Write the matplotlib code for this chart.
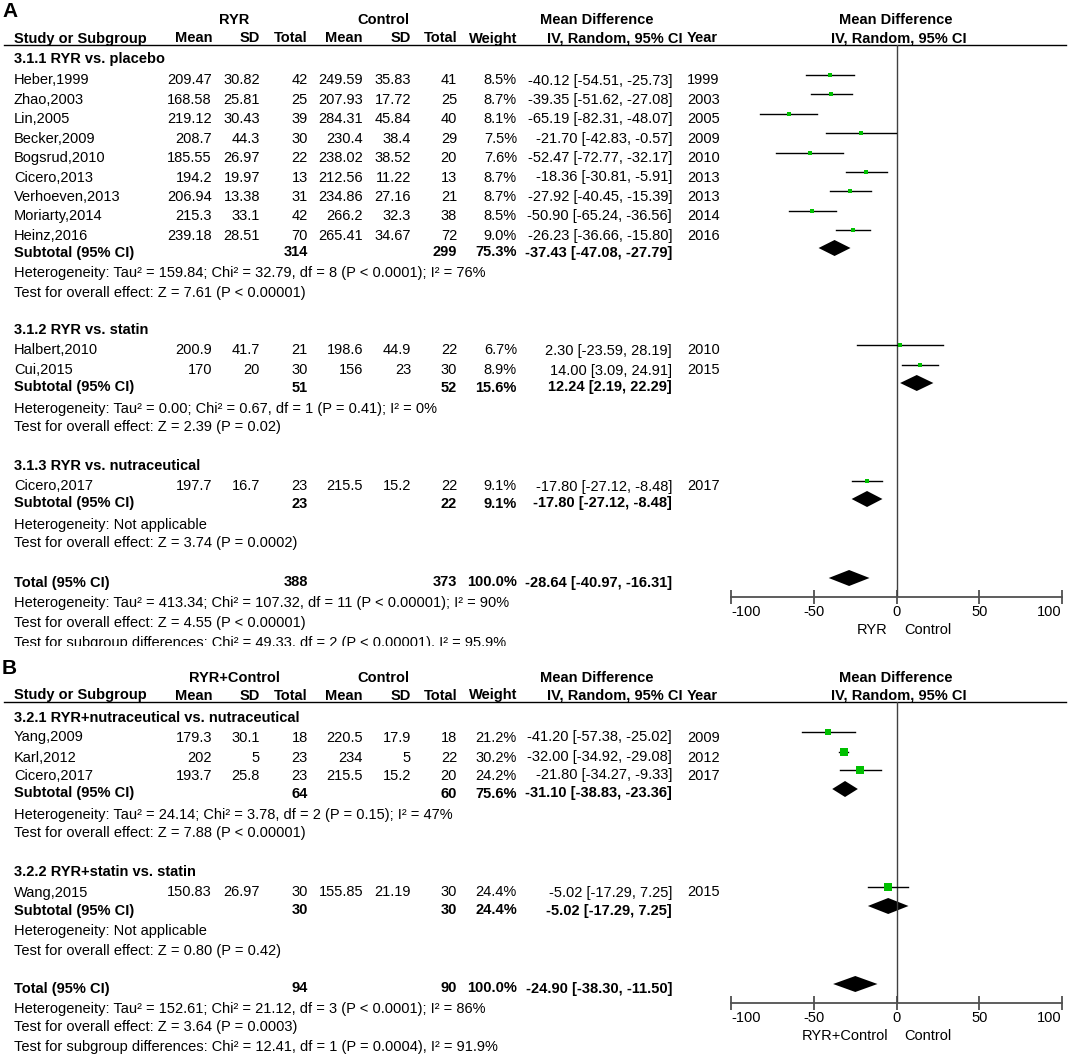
import numpy as np
import matplotlib
matplotlib.use('Agg')
import matplotlib.pyplot as plt
from matplotlib.transforms import Bbox, TransformedBbox

plt.rcParams['font.family'] = ['Liberation Sans', 'DejaVu Sans']

# ---------------- panel A data ----------------
a_names = ['Heber,1999', 'Zhao,2003', 'Lin,2005', 'Becker,2009', 'Bogsrud,2010', 'Cicero,2013',
           'Verhoeven,2013', 'Moriarty,2014', 'Heinz,2016', 'Halbert,2010', 'Cui,2015', 'Cicero,2017']
a_grp = [0, 0, 0, 0, 0, 0, 0, 0, 0, 1, 1, 2]
a_m1 = [209.47, 168.58, 219.12, 208.7, 185.55, 194.2, 206.94, 215.3, 239.18, 200.9, 170, 197.7]
a_sd1 = [30.82, 25.81, 30.43, 44.3, 26.97, 19.97, 13.38, 33.1, 28.51, 41.7, 20, 16.7]
a_n1 = [42, 25, 39, 30, 22, 13, 31, 42, 70, 21, 30, 23]
a_m2 = [249.59, 207.93, 284.31, 230.4, 238.02, 212.56, 234.86, 266.2, 265.41, 198.6, 156, 215.5]
a_sd2 = [35.83, 17.72, 45.84, 38.4, 38.52, 11.22, 27.16, 32.3, 34.67, 44.9, 23, 15.2]
a_n2 = [41, 25, 40, 29, 20, 13, 21, 38, 72, 22, 30, 22]
a_w = [8.5, 8.7, 8.1, 7.5, 7.6, 8.7, 8.7, 8.5, 9.0, 6.7, 8.9, 9.1]
a_md = [-40.12, -39.35, -65.19, -21.70, -52.47, -18.36, -27.92, -50.90, -26.23, 2.30, 14.00, -17.80]
a_lo = [-54.51, -51.62, -82.31, -42.83, -72.77, -30.81, -40.45, -65.24, -36.66, -23.59, 3.09, -27.12]
a_hi = [-25.73, -27.08, -48.07, -0.57, -32.17, -5.91, -15.39, -36.56, -15.80, 28.19, 24.91, -8.48]
a_year = [1999, 2003, 2005, 2009, 2010, 2013, 2013, 2014, 2016, 2010, 2015, 2017]

a_sub_titles = ['3.1.1 RYR vs. placebo', '3.1.2 RYR vs. statin', '3.1.3 RYR vs. nutraceutical']
a_sub_n1 = [314, 51, 23]
a_sub_n2 = [299, 52, 22]
a_sub_w = [75.3, 15.6, 9.1]
a_sub_md = [-37.43, 12.24, -17.80]
a_sub_lo = [-47.08, 2.19, -27.12]
a_sub_hi = [-27.79, 22.29, -8.48]
a_sub_het = ['Heterogeneity: Tau² = 159.84; Chi² = 32.79, df = 8 (P < 0.0001); I² = 76%',
             'Heterogeneity: Tau² = 0.00; Chi² = 0.67, df = 1 (P = 0.41); I² = 0%',
             'Heterogeneity: Not applicable']
a_sub_test = ['Test for overall effect: Z = 7.61 (P < 0.00001)',
              'Test for overall effect: Z = 2.39 (P = 0.02)',
              'Test for overall effect: Z = 3.74 (P = 0.0002)']
a_tot = [388, 373, 100.0, -28.64, -40.97, -16.31]
a_tot_text = ['Heterogeneity: Tau² = 413.34; Chi² = 107.32, df = 11 (P < 0.00001); I² = 90%',
              'Test for overall effect: Z = 4.55 (P < 0.00001)',
              'Test for subgroup differences: Chi² = 49.33, df = 2 (P < 0.00001), I² = 95.9%']

# ---------------- panel B data ----------------
b_names = ['Yang,2009', 'Karl,2012', 'Cicero,2017', 'Wang,2015']
b_grp = [0, 0, 0, 1]
b_m1 = [179.3, 202, 193.7, 150.83]
b_sd1 = [30.1, 5, 25.8, 26.97]
b_n1 = [18, 23, 23, 30]
b_m2 = [220.5, 234, 215.5, 155.85]
b_sd2 = [17.9, 5, 15.2, 21.19]
b_n2 = [18, 22, 20, 30]
b_w = [21.2, 30.2, 24.2, 24.4]
b_md = [-41.20, -32.00, -21.80, -5.02]
b_lo = [-57.38, -34.92, -34.27, -17.29]
b_hi = [-25.02, -29.08, -9.33, 7.25]
b_year = [2009, 2012, 2017, 2015]

b_sub_titles = ['3.2.1 RYR+nutraceutical vs. nutraceutical', '3.2.2 RYR+statin vs. statin']
b_sub_n1 = [64, 30]
b_sub_n2 = [60, 30]
b_sub_w = [75.6, 24.4]
b_sub_md = [-31.10, -5.02]
b_sub_lo = [-38.83, -17.29]
b_sub_hi = [-23.36, 7.25]
b_sub_het = ['Heterogeneity: Tau² = 24.14; Chi² = 3.78, df = 2 (P = 0.15); I² = 47%',
             'Heterogeneity: Not applicable']
b_sub_test = ['Test for overall effect: Z = 7.88 (P < 0.00001)',
              'Test for overall effect: Z = 0.80 (P = 0.42)']
b_tot = [94, 90, 100.0, -24.90, -38.30, -11.50]
b_tot_text = ['Heterogeneity: Tau² = 152.61; Chi² = 21.12, df = 3 (P < 0.0001); I² = 86%',
              'Test for overall effect: Z = 3.64 (P = 0.0003)',
              'Test for subgroup differences: Chi² = 12.41, df = 1 (P = 0.0004), I² = 91.9%']

ticks = [-100, -50, 0, 50, 100]

# ---------------- layout (pixels) ----------------
W, H = 1079, 1055
GREEN = '#00c000'
FS = 10.5
X_NAME = 14
X_COLS = [212, 260, 308, 363, 411, 457]
X_W = 517
X_CI = 672
X_YEAR = 687
FX0, FX1 = 731, 1062

fig = plt.figure(figsize=(W / 100, H / 100), dpi=100)
ax = fig.add_axes([0, 0, 1, 1])
ax.set_xlim(0, W)
ax.set_ylim(H, 0)
ax.axis('off')


def put(x, y, s, ha='left', bold=False, size=FS, clip=None):
    t = ax.text(x, y + 0.5, s, ha=ha, va='center', fontsize=size,
                fontweight='bold' if bold else 'normal', color='black')
    if clip is not None:
        t.set_clip_box(TransformedBbox(Bbox.from_extents(0, 0, W, clip), ax.transData))
        t.set_clip_on(True)
    return t


def ci_str(md, lo, hi):
    return f'{md:.2f} [{lo:.2f}, {hi:.2f}]'


def draw_panel(letter, exp_label, hdr_y, line_y, axis_y, ys, clip_y,
               names, grp, m1, sd1, n1, m2, sd2, n2, w, md, lo, hi, year,
               sub_titles, sub_n1, sub_n2, sub_w, sub_md, sub_lo, sub_hi,
               sub_het, sub_test, tot, tot_text):
    # headers
    put(2, hdr_y - 9, letter, bold=True, size=15)
    put(234, hdr_y, exp_label, ha='center', bold=True)
    put(383, hdr_y, 'Control', ha='center', bold=True)
    put(597, hdr_y, 'Mean Difference', ha='center', bold=True)
    put(896, hdr_y, 'Mean Difference', ha='center', bold=True)
    y2 = hdr_y + 18
    put(X_NAME, y2, 'Study or Subgroup', bold=True)
    for x, s in zip(X_COLS, ['Mean', 'SD', 'Total', 'Mean', 'SD', 'Total']):
        put(x, y2, s, ha='right', bold=True)
    put(X_W, y2, 'Weight', ha='right', bold=True)
    put(615, y2, 'IV, Random, 95% CI', ha='center', bold=True)
    put(X_YEAR, y2, 'Year', bold=True)
    put(899, y2, 'IV, Random, 95% CI', ha='center', bold=True)
    ax.plot([4, 1066], [line_y, line_y], color='black', lw=1)

    # forest axes
    axf = fig.add_axes([FX0 / W, 1 - axis_y / H, (FX1 - FX0) / W, (axis_y - line_y) / H])
    axf.patch.set_visible(False)
    axf.set_xlim(-100, 100)
    axf.set_ylim(axis_y, line_y)
    for sp in ['top', 'left', 'right']:
        axf.spines[sp].set_visible(False)
    axf.spines['bottom'].set_color('#505050')
    axf.spines['bottom'].set_linewidth(1.3)
    axf.set_yticks([])
    axf.set_xticks(ticks)
    axf.set_xticklabels([str(t) for t in ticks])
    axf.tick_params(axis='x', direction='inout', length=10, width=1.3, color='#505050',
                    labelsize=FS, pad=1)
    lbls = axf.get_xticklabels()
    lbls[0].set_ha('left')
    lbls[-1].set_ha('right')
    axf.axvline(0, color='#404040', lw=1)
    put(888, axis_y + 33, exp_label, ha='right')
    put(904, axis_y + 33, 'Control')

    yi = iter(ys)
    for g, title in enumerate(sub_titles):
        put(X_NAME, next(yi), title, bold=True)
        for i in [k for k in range(len(names)) if grp[k] == g]:
            y = next(yi)
            put(X_NAME, y, names[i])
            for x, v in zip(X_COLS, [m1[i], sd1[i], n1[i], m2[i], sd2[i], n2[i]]):
                put(x, y, f'{v:g}', ha='right')
            put(X_W, y, f'{w[i]:.1f}%', ha='right')
            put(X_CI, y, ci_str(md[i], lo[i], hi[i]), ha='right')
            put(X_YEAR, y, str(year[i]))
            ym = y - 5
            axf.plot([lo[i], hi[i]], [ym, ym], color='black', lw=1)
            side = 1.5 * np.sqrt(w[i]) * 0.72
            axf.plot(md[i], ym, 's', color=GREEN, ms=side, mew=0)
        y = next(yi)
        put(X_NAME, y, 'Subtotal (95% CI)', bold=True)
        put(X_COLS[2], y, str(sub_n1[g]), ha='right', bold=True)
        put(X_COLS[5], y, str(sub_n2[g]), ha='right', bold=True)
        put(X_W, y, f'{sub_w[g]:.1f}%', ha='right', bold=True)
        put(X_CI, y, ci_str(sub_md[g], sub_lo[g], sub_hi[g]), ha='right', bold=True)
        ym = y - 4
        axf.fill([sub_lo[g], sub_md[g], sub_hi[g], sub_md[g]], [ym, ym - 8, ym, ym + 8],
                 color='black', lw=0)
        put(X_NAME, next(yi), sub_het[g])
        put(X_NAME, next(yi), sub_test[g])

    y = next(yi)
    put(X_NAME, y, 'Total (95% CI)', bold=True)
    put(X_COLS[2], y, str(tot[0]), ha='right', bold=True)
    put(X_COLS[5], y, str(tot[1]), ha='right', bold=True)
    put(X_W, y, f'{tot[2]:.1f}%', ha='right', bold=True)
    put(X_CI, y, ci_str(tot[3], tot[4], tot[5]), ha='right', bold=True)
    ym = y - 4
    axf.fill([tot[4], tot[3], tot[5], tot[3]], [ym, ym - 8, ym, ym + 8], color='black', lw=0)
    for s in tot_text:
        put(X_NAME, next(yi), s, clip=clip_y)


ys_a = [59, 80, 99.4, 118.8, 138.2, 157.6, 177, 196.4, 215.8, 235.2, 252, 273, 292,
        330, 350, 370, 387, 408, 427,
        465, 486, 503, 525, 543,
        582, 602, 622, 642]
ys_b = [717, 737, 757, 775, 793, 815, 833,
        872, 892, 910, 930, 950,
        988, 1008, 1027, 1047]

draw_panel('A', 'RYR', 20, 44.5, 597, ys_a, 646,
           a_names, a_grp, a_m1, a_sd1, a_n1, a_m2, a_sd2, a_n2, a_w, a_md, a_lo, a_hi, a_year,
           a_sub_titles, a_sub_n1, a_sub_n2, a_sub_w, a_sub_md, a_sub_lo, a_sub_hi,
           a_sub_het, a_sub_test, a_tot, a_tot_text)
draw_panel('B', 'RYR+Control', 677, 702, 1003, ys_b, H,
           b_names, b_grp, b_m1, b_sd1, b_n1, b_m2, b_sd2, b_n2, b_w, b_md, b_lo, b_hi, b_year,
           b_sub_titles, b_sub_n1, b_sub_n2, b_sub_w, b_sub_md, b_sub_lo, b_sub_hi,
           b_sub_het, b_sub_test, b_tot, b_tot_text)

fig.savefig('out.png', dpi=100)
